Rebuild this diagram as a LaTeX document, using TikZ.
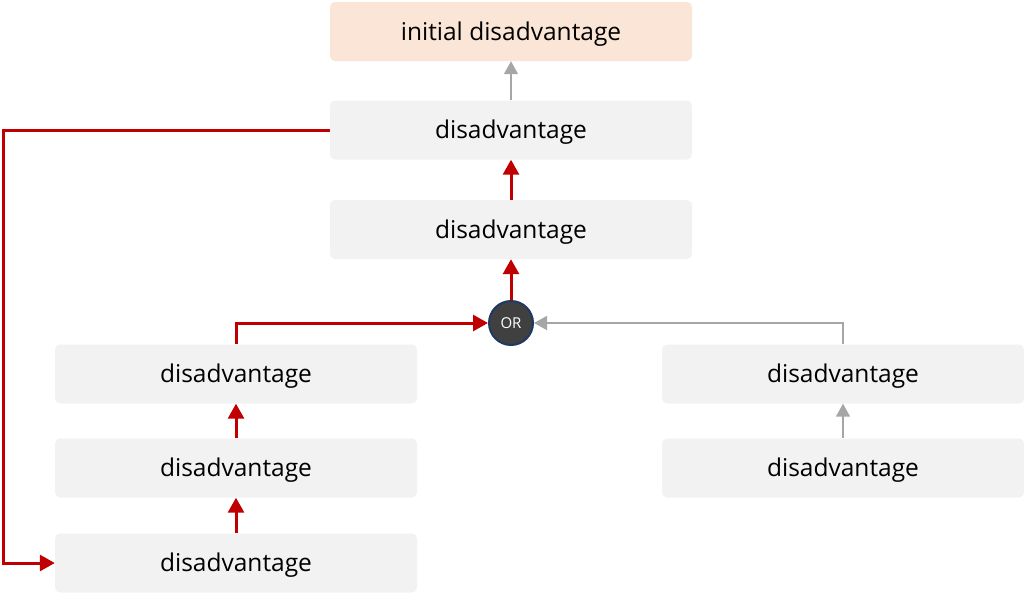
\documentclass[tikz,border=0pt]{standalone}
\usepackage{fontspec}
\setmainfont{Open Sans}
\usetikzlibrary{arrows.meta}
\definecolor{boxgray}{HTML}{F2F2F2}
\definecolor{peach}{HTML}{FBE5D6}
\definecolor{darkred}{HTML}{C00000}
\definecolor{arrowgray}{HTML}{A6A6A6}
\definecolor{ordark}{HTML}{404040}
\definecolor{orblue}{HTML}{1F3864}
\begin{document}
\begin{tikzpicture}[x=1pt,y=-1pt,
	box/.style={fill=boxgray,rounded corners=5pt,minimum width=362pt,minimum height=59pt,inner sep=0pt,text height=18pt,text depth=1pt,font=\fontsize{24.5}{28}\selectfont},
	redarrow/.style={draw=darkred,line width=3pt,-{Triangle[length=15pt,width=16pt]}},
	grayarrow/.style={draw=arrowgray,line width=1.5pt,-{Triangle[length=13pt,width=14pt]}}]
	\useasboundingbox (0,0) rectangle (1024,595);
	\node[box,fill=peach] (init) at (511,31.5) {initial disadvantage};
	\node[box] (top) at (511,130) {disadvantage};
	\node[box] (mid) at (511,229.5) {disadvantage};
	\node[circle,fill=ordark,draw=orblue,line width=2pt,minimum size=44pt,inner sep=0pt,text=white,font=\fontsize{15}{17}\selectfont] (or) at (511,323) {OR};
	\node[box] (leftA) at (236,374) {disadvantage};
	\node[box] (leftB) at (236,468) {disadvantage};
	\node[box] (leftC) at (236,563) {disadvantage};
	\node[box] (rightA) at (843,374) {disadvantage};
	\node[box] (rightB) at (843,468) {disadvantage};
	\coordinate (loop) at (3,0);
	\draw[grayarrow] (top) -- (init);
	\draw[redarrow] (mid) -- (top);
	\draw[redarrow] (or) -- (mid);
	\draw[redarrow] (leftA.north) |- (or.west);
	\draw[grayarrow] (rightA.north) |- (or.east);
	\draw[redarrow] (leftB) -- (leftA);
	\draw[redarrow] (leftC) -- (leftB);
	\draw[grayarrow] (rightB) -- (rightA);
	\draw[redarrow] (top.west) -| (loop |- leftC.west) -- (leftC.west);
\end{tikzpicture}
\end{document}
